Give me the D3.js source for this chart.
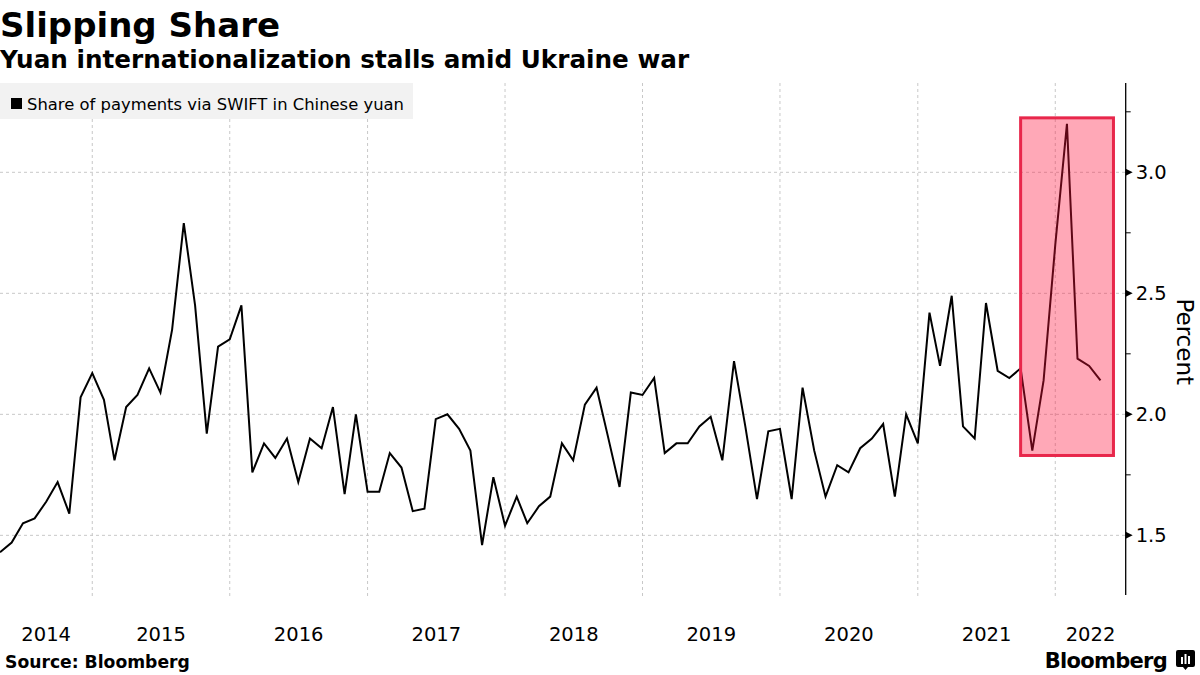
<!DOCTYPE html>
<html>
<head>
<meta charset="utf-8">
<script src="https://cdn.jsdelivr.net/npm/d3@7"></script>
<style>
  html, body { margin: 0; padding: 0; background: #fff; }
  svg { display: block; }
  text { font-family: "DejaVu Sans", sans-serif; }
</style>
</head>
<body>
<svg id="chart" width="1200" height="675"></svg>
<script>
// ---- data ----
const title = "Slipping Share";
const subtitle = "Yuan internationalization stalls amid Ukraine war";
const seriesName = "Share of payments via SWIFT in Chinese yuan";
const yAxisTitle = "Percent";
const source = "Source: Bloomberg";

// month of each observation (YYYY-MM)
const months = [
  "2014-04","2014-05","2014-06","2014-07","2014-08","2014-09","2014-10","2014-11","2014-12",
  "2015-01","2015-02","2015-03","2015-04","2015-05","2015-06","2015-07","2015-08","2015-09","2015-10","2015-11","2015-12",
  "2016-01","2016-02","2016-03","2016-04","2016-05","2016-06","2016-07","2016-08","2016-09","2016-10","2016-11","2016-12",
  "2017-01","2017-02","2017-03","2017-04","2017-05","2017-06","2017-07","2017-08","2017-09","2017-10","2017-11","2017-12",
  "2018-01","2018-02","2018-03","2018-04","2018-05","2018-06","2018-07","2018-08","2018-09","2018-10","2018-11","2018-12",
  "2019-01","2019-02","2019-03","2019-04","2019-05","2019-06","2019-07","2019-08","2019-09","2019-10","2019-11","2019-12",
  "2020-01","2020-02","2020-03","2020-04","2020-05","2020-06","2020-07","2020-08","2020-09","2020-10","2020-11","2020-12",
  "2021-01","2021-02","2021-03","2021-04","2021-05","2021-06","2021-07","2021-08","2021-09","2021-10","2021-11","2021-12",
  "2022-01","2022-02","2022-03","2022-04"
];
// share of SWIFT payments in yuan, percent
const yuanShare = [
  1.43,1.47,1.55,1.57,1.64,1.72,1.59,2.07,2.17,
  2.06,1.81,2.03,2.08,2.19,2.09,2.35,2.79,2.45,1.92,2.28,2.31,
  2.45,1.76,1.88,1.82,1.90,1.72,1.90,1.86,2.03,1.67,2.00,1.68,
  1.68,1.84,1.78,1.60,1.61,1.98,2.00,1.94,1.85,1.46,1.74,1.54,
  1.66,1.55,1.62,1.66,1.88,1.81,2.04,2.11,1.91,1.70,2.09,2.08,
  2.15,1.84,1.88,1.88,1.95,1.99,1.81,2.22,1.95,1.65,1.93,1.94,
  1.65,2.11,1.85,1.66,1.79,1.76,1.86,1.90,1.96,1.66,2.00,1.88,
  2.42,2.20,2.49,1.95,1.90,2.46,2.18,2.15,2.19,1.85,2.14,2.70,
  3.20,2.23,2.20,2.14
];
const yTicks = [1.5, 2.0, 2.5, 3.0];
const yMinorTicks = [1.75, 2.25, 2.75, 3.25];
const yearLabels = ["2014","2015","2016","2017","2018","2019","2020","2021","2022"];
// highlighted window (Ukraine war period)
const highlightMonths = ["2021-09", "2022-05"];
const highlightRange = [1.83, 3.225];

// ---- layout ----
const svg = d3.select("#chart");
const plot = { left: 0, right: 1125.7, top: 83, bottom: 595 };

const parseMonth = d3.timeParse("%Y-%m");
// observation drawn at end of its month (start of next month)
const obsDate = m => d3.timeMonth.offset(parseMonth(m), 1);
const data = months.map((m, i) => ({ date: obsDate(m), value: yuanShare[i] }));

const x = d3.scaleTime()
  .domain([new Date(2014, 4, 1), new Date(2022, 6, 7)])
  .range([plot.left, plot.right]);
const y = d3.scaleLinear()
  .domain([1.2535, 3.369])
  .range([plot.bottom, plot.top]);

// ---- titles ----
svg.append("text").attr("x", 0).attr("y", 37)
  .attr("font-size", 34).attr("font-weight", "bold").attr("fill", "#000")
  .text(title);
svg.append("text").attr("x", 0).attr("y", 68)
  .attr("font-size", 24.7).attr("font-weight", "bold").attr("fill", "#000")
  .text(subtitle);

// ---- gridlines ----
const years = d3.range(2015, 2023).map(yy => new Date(yy, 0, 1));
const grid = svg.append("g");
grid.selectAll("line.v").data(years).join("line")
  .attr("x1", d => x(d)).attr("x2", d => x(d))
  .attr("y1", plot.top).attr("y2", 597)
  .attr("stroke", "#c8c8c8").attr("stroke-width", 1).attr("stroke-dasharray", "3,3");
grid.selectAll("line.h").data(yTicks).join("line")
  .attr("x1", plot.left).attr("x2", plot.right)
  .attr("y1", d => y(d)).attr("y2", d => y(d))
  .attr("stroke", "#c8c8c8").attr("stroke-width", 1).attr("stroke-dasharray", "3,3");

// ---- legend ----
const lg = svg.append("g");
lg.append("rect").attr("x", 0).attr("y", 83).attr("width", 413).attr("height", 36)
  .attr("fill", "#f2f2f2");
lg.append("rect").attr("x", 11).attr("y", 98).attr("width", 11).attr("height", 11).attr("fill", "#000");
lg.append("text").attr("x", 27).attr("y", 109.5).attr("font-size", 16.4).attr("fill", "#000")
  .text(seriesName);

// ---- line ----
const line = d3.line().x(d => x(d.date)).y(d => y(d.value));
svg.append("path").datum(data)
  .attr("d", line)
  .attr("fill", "none").attr("stroke", "#000").attr("stroke-width", 2)
  .attr("stroke-linejoin", "miter");

// ---- highlight box ----
svg.append("rect")
  .attr("x", x(obsDate(highlightMonths[0]))).attr("y", y(highlightRange[1]))
  .attr("width", x(parseMonth(highlightMonths[1])) + 13 - x(obsDate(highlightMonths[0])))
  .attr("height", y(highlightRange[0]) - y(highlightRange[1]))
  .attr("fill", "rgb(255,20,60)").attr("fill-opacity", 0.37)
  .attr("stroke", "#e8274b").attr("stroke-width", 3);

// ---- y axis (right) ----
const ya = svg.append("g");
ya.append("line").attr("x1", plot.right).attr("x2", plot.right)
  .attr("y1", plot.top).attr("y2", plot.bottom)
  .attr("stroke", "#000").attr("stroke-width", 1.3);
ya.selectAll("path.tri").data(yTicks).join("path")
  .attr("d", d => `M${plot.right},${y(d) - 3.5}L${plot.right + 7},${y(d)}L${plot.right},${y(d) + 3.5}Z`)
  .attr("fill", "#000");
ya.selectAll("line.minor").data(yMinorTicks).join("line")
  .attr("x1", plot.right).attr("x2", plot.right + 5)
  .attr("y1", d => y(d)).attr("y2", d => y(d))
  .attr("stroke", "#000").attr("stroke-width", 1);
ya.selectAll("text").data(yTicks).join("text")
  .attr("x", plot.right + 10).attr("y", d => y(d) + 7)
  .attr("font-size", 19.5).attr("fill", "#000")
  .text(d3.format(".1f"));
svg.append("text")
  .attr("transform", `translate(1177, ${y(2.3)}) rotate(90)`)
  .attr("text-anchor", "middle").attr("font-size", 23).attr("fill", "#000")
  .text(yAxisTitle);

// ---- x labels: centered in each visible year span ----
const xLab = svg.append("g");
xLab.selectAll("text").data(yearLabels).join("text")
  .attr("x", d => {
    const a = Math.max(x(new Date(+d, 0, 1)), plot.left);
    const b = Math.min(x(new Date(+d + 1, 0, 1)), plot.right);
    return (a + b) / 2;
  })
  .attr("y", 641)
  .attr("text-anchor", "middle").attr("font-size", 19.5).attr("fill", "#000")
  .text(d => d);

// ---- footer ----
svg.append("text").attr("x", 5).attr("y", 668)
  .attr("font-size", 17.2).attr("font-weight", "bold").attr("fill", "#000")
  .text(source);
svg.append("text").attr("x", 1167).attr("y", 668)
  .attr("text-anchor", "end").attr("font-size", 21).attr("font-weight", "bold")
  .attr("letter-spacing", -0.7).attr("fill", "#000")
  .text("Bloomberg");
const logo = svg.append("g").attr("transform", "translate(1176,650)");
logo.append("path").attr("d", "M2,0H17a2,2 0 0 1 2,2V15a2,2 0 0 1 -2,2H12L9.5,20L7,17H2a2,2 0 0 1 -2,-2V2a2,2 0 0 1 2,-2Z").attr("fill", "#000");
logo.selectAll("rect").data([[5,7,2,7],[8.5,4,2,10],[12,6,2,8]]).join("rect")
  .attr("x", d => d[0]).attr("y", d => d[1]).attr("width", d => d[2]).attr("height", d => d[3])
  .attr("fill", "#fff");
</script>
</body>
</html>
